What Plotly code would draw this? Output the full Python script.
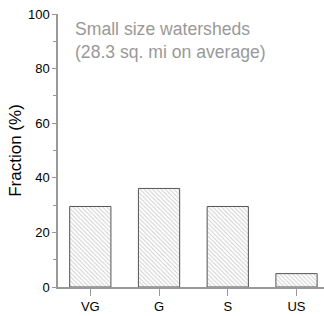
import plotly.graph_objects as go

categories = ["VG", "G", "S", "US"]
fractions = [29.5, 36.1, 29.5, 4.9]

fig = go.Figure()
fig.add_trace(go.Bar(
    x=categories, y=fractions, width=0.6,
    marker=dict(color="white", line=dict(color="#555555", width=1),
                pattern=dict(shape="\\", fgcolor="#999999", size=3, solidity=0.3)),
))
fig.update_layout(
    width=324, height=316, margin=dict(l=58, r=0, t=14, b=29),
    plot_bgcolor="white", paper_bgcolor="white", showlegend=False,
    font=dict(family="Liberation Sans, Arial", size=13, color="black"),
    annotations=[dict(text="Small size watersheds<br>(28.3 sq. mi on average)",
                      xref="paper", yref="paper", x=0.055, y=0.99, xanchor="left", yanchor="top",
                      showarrow=False, align="left",
                      font=dict(size=17.6, color="#999999"))],
)
fig.update_xaxes(range=[-0.47, 3.4], showline=True, linecolor="#999999", linewidth=1.5,
                 ticks="outside", ticklen=7, tickcolor="#999999", showgrid=False)
fig.update_yaxes(range=[0, 100], dtick=20, showline=True, linecolor="#999999", linewidth=1.5,
                 ticks="outside", ticklen=4, tickcolor="#999999", showgrid=False, zeroline=False,
                 minor=dict(dtick=10, ticks="outside", ticklen=3, tickcolor="#999999"),
                 title=dict(text="Fraction (%)", font=dict(size=17), standoff=2))
fig.write_html("out.html", config={"displayModeBar": False},
               post_script="document.body.style.margin='0';document.body.style.overflow='hidden';")
